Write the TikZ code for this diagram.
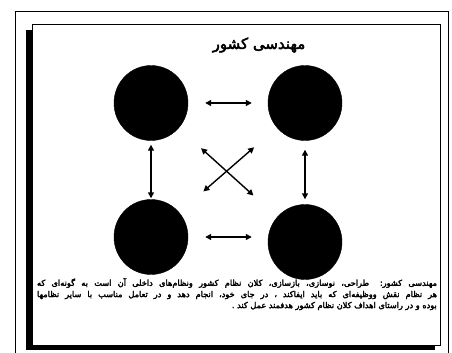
\documentclass[tikz,border=0pt]{standalone}
\usepackage{fontspec}
\usetikzlibrary{shapes.geometric,arrows.meta}
\TeXXeTstate=1
\newfontfamily\fa[Script=Arabic,FakeBold=3]{DejaVu Sans}
\newfontfamily\fap[Script=Arabic,FakeBold=3]{DejaVu Sans}
\tikzset{
  blob/.style={ellipse,fill=black,draw=black,inner sep=0pt,minimum width=74pt,minimum height=75pt},
  link/.style={{Triangle[length=6pt,width=6pt]}-{Triangle[length=6pt,width=6pt]},line width=1.4pt},
  txt/.style={inner sep=0pt,anchor=center},
  para/.style={txt,font=\fap\fontsize{8.2}{9}\selectfont}
}
\begin{document}
\begin{tikzpicture}[x=1pt,y=-1pt]
\useasboundingbox (0,0) rectangle (452,353);
\fill[white] (0,0) rectangle (452,353);
% outer frame
\draw[line width=0.8pt] (15,353) -- (15,11) -- (448,11) -- (448,353);
% shadow and panel
\fill[black] (26,30) rectangle (435,350);
\draw[fill=white,line width=0.9pt] (32,24) rectangle (440,345);
% title
\node[txt] (title) at (259,45) {\fa\fontsize{15}{17}\selectfont\beginR مهندسی کشور\endR};
% blobs
\node[blob] (tl) at (151,103) {};
\node[blob] (tr) at (305,103) {};
\node[blob] (bl) at (151,237) {};
\node[blob] (br) at (305,242) {};
% connectors
\draw[link,shorten <=17pt,shorten >=16pt] (tl) -- (tr);
\draw[link,shorten <=17pt,shorten >=16pt] (bl.east) -- (br.west|-bl.east);
\draw[link,shorten <=4pt,shorten >=1pt] (tl) -- (bl);
\draw[link,shorten <=9pt,shorten >=5pt] (tr) -- (br);
\draw[link,shorten <=30pt,shorten >=32pt] (tl) -- (br);
\draw[link,shorten <=30pt,shorten >=32pt] (tr) -- (bl);
% paragraph
\node[para] (p1) at (237,283) {\hbox to 400pt{\beginR مهندسی کشور: طراحی، نوسازی، بازسازی، کلان نظام کشور ونظام‌های داخلی آن است به گونه‌ای که\endR}};
\node[para] (p2) at (237,295) {\hbox to 400pt{\beginR هر نظام نقش ووظیفه‌ای که باید ایفاکند ، در جای خود، انجام دهد و در تعامل مناسب با سایر نظامها\endR}};
\node[para,anchor=east] (p3) at (437,306) {\beginR بوده و در راستای اهداف کلان نظام کشور هدفمند عمل کند .\endR};
\end{tikzpicture}
\end{document}
